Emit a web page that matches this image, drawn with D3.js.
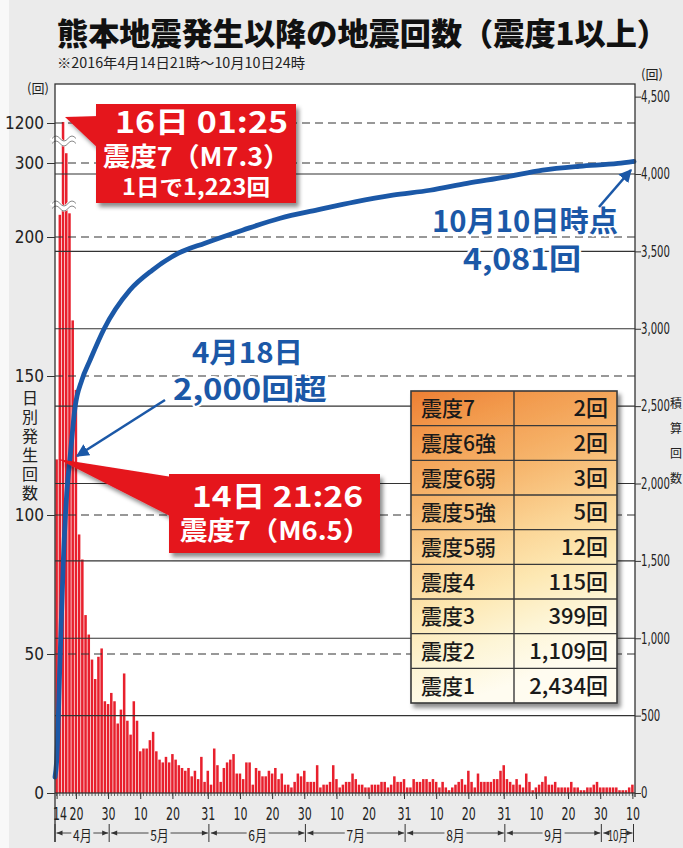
<!DOCTYPE html>
<html>
<head>
<meta charset="utf-8">
<script src="https://cdn.jsdelivr.net/npm/d3@7"></script>
<style>
  body { margin: 0; background: #ebebeb; }
  svg { display: block; }
</style>
</head>
<body>
<svg id="chart" width="683" height="848"></svg>
<script>
// 日別の地震回数 (4/14〜10/10)
const dailyCounts = [
  // 4月14日〜30日
  120, 230, 1223, 520, 232, 170, 145, 93, 84, 64, 57, 48, 41, 49, 52, 33, 32,
  // 5月
  36, 33, 25, 30, 43, 26, 21, 33, 26, 15, 16, 16, 19, 22, 15, 12, 11, 13, 11, 14,
  12, 10, 9, 8, 9, 6, 8, 5, 13, 4, 8,
  // 6月
  3, 16, 10, 4, 9, 11, 12, 14, 7, 7, 5, 11, 11, 3, 9, 8, 6, 6, 8, 7,
  9, 5, 7, 3, 3, 2, 4, 7, 6, 8,
  // 7月
  4, 4, 4, 10, 2, 3, 3, 4, 10, 5, 2, 3, 4, 4, 7, 5, 3, 3, 2, 2,
  3, 3, 3, 4, 4, 2, 3, 6, 4, 4, 5,
  // 8月
  2, 2, 5, 4, 4, 5, 5, 4, 5, 4, 2, 4, 2, 1, 2, 3, 4, 5, 3, 8,
  4, 2, 7, 4, 4, 4, 4, 5, 5, 8, 10,
  // 9月
  5, 4, 3, 5, 3, 2, 7, 4, 1, 2, 3, 4, 6, 3, 3, 4, 2, 2, 2, 2,
  4, 2, 2, 1, 1, 2, 2, 3, 4, 2,
  // 10月
  2, 2, 2, 2, 2, 1, 1, 1, 2, 3
];

// 積算回数 (4/14 0時からの経過日数, 回数)
const cumDayOffsets = [0, 0.53, 1.56, 2.6, 3.66, 4.69, 6.25, 8.34, 10.9, 15.2, 23.3, 30.3, 38.4,
  46.6, 58.3, 70, 81.6, 93.3, 105, 116.6, 128.1, 140, 151.6, 163, 175, 180];
const cumCounts = [103, 213, 859, 1505, 1938, 2170, 2494, 2668, 2797, 2997, 3250, 3379, 3488,
  3553, 3637, 3714, 3768, 3820, 3863, 3895, 3940, 3980, 4025, 4050, 4068, 4081];

const leftTicks = [0, 50, 100, 150, 200, 300, 1200];
const rightTicks = [0, 500, 1000, 1500, 2000, 2500, 3000, 3500, 4000, 4500];
const dayTicks = ["2016-04-14", "2016-04-20", "2016-04-30", "2016-05-10", "2016-05-20", "2016-05-31",
  "2016-06-10", "2016-06-20", "2016-06-30", "2016-07-10", "2016-07-20", "2016-07-31",
  "2016-08-10", "2016-08-20", "2016-08-31", "2016-09-10", "2016-09-20", "2016-09-30", "2016-10-10"];
const monthNames = ["4月", "5月", "6月", "7月", "8月", "9月", "10月"];

const shindoLabels = ["震度7", "震度6強", "震度6弱", "震度5強", "震度5弱", "震度4", "震度3", "震度2", "震度1"];
const shindoCounts = ["2回", "2回", "3回", "5回", "12回", "115回", "399回", "1,109回", "2,434回"];

const JP = "'Noto Sans CJK JP','Noto Sans',sans-serif";
const NUM = "'Liberation Sans Narrow','DejaVu Sans Condensed','Liberation Sans',sans-serif";
const RED = "#e5141f";
const BLUE = "#1b58a7";

const W = 683, H = 848;
const plot = { left: 55, right: 635, top: 84, bottom: 793 };

const svg = d3.select("#chart");
const defs = svg.append("defs");

const sh = defs.append("filter").attr("id", "shadow").attr("x", "-10%").attr("y", "-10%")
  .attr("width", "130%").attr("height", "130%");
sh.append("feDropShadow").attr("dx", 3).attr("dy", 4).attr("stdDeviation", 2)
  .attr("flood-color", "#000").attr("flood-opacity", 0.45);

const grad = defs.append("linearGradient").attr("id", "tblGrad")
  .attr("x1", 0).attr("y1", 0).attr("x2", 0.25).attr("y2", 1);
[[0, "#ed7f33"], [0.15, "#f29a4d"], [0.35, "#f6b56c"], [0.55, "#fbd596"],
 [0.7, "#fde8b3"], [0.85, "#fdf5d6"], [1, "#fffcf0"]].forEach(([o, c]) =>
  grad.append("stop").attr("offset", o).attr("stop-color", c));

defs.append("marker").attr("id", "arrowBlue").attr("viewBox", "0 0 10 10")
  .attr("refX", 9).attr("refY", 5).attr("markerWidth", 5).attr("markerHeight", 5)
  .attr("markerUnits", "strokeWidth").attr("orient", "auto")
  .append("path").attr("d", "M0,0L10,5L0,10z").attr("fill", BLUE);

// 背景
svg.append("rect").attr("width", W).attr("height", H).attr("fill", "#ebebeb");
svg.append("rect").attr("width", 9).attr("height", H).attr("fill", "#f8f8f8");

// タイトル
svg.append("text").attr("x", 57).attr("y", 45)
  .attr("font-family", JP).attr("font-size", 31).attr("font-weight", 900).attr("fill", "#111")
  .attr("textLength", 611).attr("lengthAdjust", "spacingAndGlyphs")
  .text("熊本地震発生以降の地震回数（震度1以上）");
svg.append("text").attr("x", 57).attr("y", 68)
  .attr("font-family", JP).attr("font-size", 14).attr("fill", "#222")
  .attr("textLength", 248).attr("lengthAdjust", "spacingAndGlyphs")
  .text("※2016年4月14日21時～10月10日24時");

// scales
const t0 = Date.UTC(2016, 3, 14), t1 = Date.UTC(2016, 9, 11);
const x = d3.scaleUtc().domain([t0, t1]).range([55, 634]);
const days = d3.utcDay.range(new Date(t0), new Date(t1));
const step = x(days[1]) - x(days[0]);
const yL = d3.scaleLinear().domain([0, 200, 300, 1200]).range([793, 237, 163, 123]);
const yR = d3.scaleLinear().domain([0, 4500]).range([793, 793 - 4500 * 0.15475]);

// プロット背景
svg.append("rect").attr("x", plot.left).attr("y", plot.top)
  .attr("width", plot.right - plot.left).attr("height", plot.bottom - plot.top).attr("fill", "#fff");

// 棒グラフ
const bars = days.map((d, i) => ({ date: d, n: dailyCounts[i] }));
svg.append("g").selectAll("rect").data(bars).join("rect")
  .attr("x", d => x(d.date) + 0.35)
  .attr("width", step - 0.7)
  .attr("y", d => yL(d.n))
  .attr("height", d => yL(0) - yL(d.n))
  .attr("fill", "#e8202d");

// 省略記号
[140, 205].forEach(yy => {
  const wave = `M52,${yy + 1} q4,-5 8,0 t8,0 t8,0`;
  svg.append("path").attr("d", wave).attr("fill", "none").attr("stroke", "#fff").attr("stroke-width", 6);
  svg.append("path").attr("d", wave).attr("transform", "translate(0,-2.5)")
    .attr("fill", "none").attr("stroke", "#888").attr("stroke-width", 1);
  svg.append("path").attr("d", wave).attr("transform", "translate(0,2.5)")
    .attr("fill", "none").attr("stroke", "#888").attr("stroke-width", 1);
});

// 目盛線
const grid = svg.append("g");
grid.selectAll(".dash").data(leftTicks.filter(v => v > 0)).join("line")
  .attr("x1", plot.left).attr("x2", plot.right)
  .attr("y1", d => yL(d)).attr("y2", d => yL(d))
  .attr("stroke", "#333").attr("stroke-width", 1.1).attr("stroke-dasharray", "8,5");
grid.selectAll(".solid").data(rightTicks.filter(v => v > 0 && v < 4500)).join("line")
  .attr("x1", plot.left).attr("x2", plot.right)
  .attr("y1", d => yR(d)).attr("y2", d => yR(d))
  .attr("stroke", "#333").attr("stroke-width", 1.1);

// 積算回数の線
const cum = cumDayOffsets.map((d, i) => ({ date: new Date(t0 + d * 864e5), n: cumCounts[i] }));
svg.append("path").datum(cum)
  .attr("d", d3.line().x(d => x(d.date)).y(d => yR(d.n)).curve(d3.curveMonotoneX))
  .attr("fill", "none").attr("stroke", BLUE).attr("stroke-width", 4.8).attr("stroke-linecap", "round");

// 枠
svg.append("rect").attr("x", plot.left).attr("y", plot.top)
  .attr("width", plot.right - plot.left).attr("height", plot.bottom - plot.top)
  .attr("fill", "none").attr("stroke", "#333").attr("stroke-width", 1.3);
svg.append("line").attr("x1", plot.left).attr("x2", plot.left).attr("y1", plot.bottom).attr("y2", 842)
  .attr("stroke", "#333").attr("stroke-width", 1.3);
svg.append("line").attr("x1", plot.right).attr("x2", plot.right).attr("y1", plot.bottom).attr("y2", 797)
  .attr("stroke", "#333").attr("stroke-width", 1.3);

// 左軸
const axL = svg.append("g").attr("transform", `translate(${plot.left},0)`)
  .call(d3.axisLeft(yL).tickValues(leftTicks).tickSize(8).tickPadding(3).tickFormat(d3.format("d")));
axL.select(".domain").remove();
axL.selectAll(".tick line").attr("stroke", "#333");
axL.selectAll(".tick text").attr("font-family", NUM).attr("font-size", 17).attr("fill", "#222");

// 右軸
const axR = svg.append("g").attr("transform", `translate(${plot.right},0)`)
  .call(d3.axisRight(yR).tickValues(rightTicks).tickSize(6).tickPadding(2).tickFormat(d3.format(",")));
axR.select(".domain").remove();
axR.selectAll(".tick line").attr("stroke", "#333");
axR.selectAll(".tick text").attr("font-family", NUM).attr("font-size", 15).attr("fill", "#222")
  .attr("transform", "scale(0.75,1)");

// 下軸
const parse = d3.utcParse("%Y-%m-%d");
const tickDates = dayTicks.map(parse);
const mid = d => d3.utcHour.offset(d, 12);
svg.append("g").selectAll("line").data(days).join("line")
  .attr("x1", d => x(mid(d))).attr("x2", d => x(mid(d)))
  .attr("y1", plot.bottom).attr("y2", plot.bottom + 3)
  .attr("stroke", "#444").attr("stroke-width", 0.8);
const axB = svg.append("g").attr("transform", `translate(0,${plot.bottom})`)
  .call(d3.axisBottom(x).tickValues(tickDates.map(mid)).tickSize(6).tickPadding(9)
    .tickFormat(d3.utcFormat("%-d")));
axB.select(".domain").remove();
axB.selectAll(".tick line").attr("stroke", "#333");
axB.selectAll(".tick text").attr("font-family", NUM).attr("font-size", 17).attr("fill", "#222")
  .attr("transform", "scale(0.72,1)");
axB.select(".tick text").attr("dx", 4);

// 月の区切り
const bounds = [new Date(t0), ...d3.utcMonth.range(new Date(Date.UTC(2016, 4, 1)), new Date(t1)), new Date(t1)];
const mg = svg.append("g");
bounds.forEach((b, i) => {
  const bx = i === 0 ? plot.left : x(b) - 0.5;
  mg.append("line").attr("x1", bx).attr("x2", bx).attr("y1", 824).attr("y2", 842)
    .attr("stroke", "#333").attr("stroke-width", 1);
});
monthNames.forEach((m, i) => {
  const a = (i === 0 ? plot.left : x(bounds[i])) + 1.5, b = x(bounds[i + 1]) - 1.5;
  const cx = (a + b) / 2;
  const half = i === 6 ? 8 : 11;
  mg.append("text").attr("transform", `translate(${cx},841) scale(${i === 6 ? 0.65 : 0.8},1)`)
    .attr("text-anchor", "middle").attr("font-family", JP).attr("font-size", 15).attr("fill", "#222")
    .text(m);
  [[a, cx - half], [b, cx + half]].forEach(([end, start]) => {
    mg.append("line").attr("x1", start).attr("x2", end).attr("y1", 833).attr("y2", 833)
      .attr("stroke", "#333").attr("stroke-width", 0.9);
    const dir = end < start ? 1 : -1;
    mg.append("path").attr("d", `M${end},833 l${dir * 6},-2.6 v5.2 z`).attr("fill", "#333");
  });
});

// 軸タイトル
svg.append("text").attr("x", 27).attr("y", 93).attr("font-family", JP).attr("font-size", 13)
  .attr("fill", "#222").text("(回)");
svg.append("text").attr("x", 641).attr("y", 79).attr("font-family", JP).attr("font-size", 13)
  .attr("fill", "#222").text("(回)");
svg.append("text").attr("x", 30).attr("y", 390)
  .attr("writing-mode", "vertical-rl").attr("letter-spacing", 3)
  .attr("font-family", JP).attr("font-size", 16).attr("fill", "#222").text("日別発生回数");
svg.append("text").attr("x", 676).attr("y", 397)
  .attr("writing-mode", "vertical-rl").attr("letter-spacing", 13)
  .attr("font-family", JP).attr("font-size", 12).attr("fill", "#222").text("積算回数");

// 表
const tbl = { x: 411, y: 391, w: 206, h: 312, split: 514 };
const rowH = tbl.h / shindoLabels.length;
const tg = svg.append("g");
tg.append("rect").attr("x", tbl.x).attr("y", tbl.y).attr("width", tbl.w).attr("height", tbl.h)
  .attr("fill", "url(#tblGrad)").attr("stroke", "#3a3a3a").attr("stroke-width", 1.6)
  .attr("filter", "url(#shadow)");
tg.selectAll(".row").data(d3.range(1, shindoLabels.length)).join("line")
  .attr("x1", tbl.x).attr("x2", tbl.x + tbl.w)
  .attr("y1", i => tbl.y + i * rowH).attr("y2", i => tbl.y + i * rowH)
  .attr("stroke", "#3a3a3a").attr("stroke-width", 1.4);
tg.append("line").attr("x1", tbl.split).attr("x2", tbl.split).attr("y1", tbl.y).attr("y2", tbl.y + tbl.h)
  .attr("stroke", "#3a3a3a").attr("stroke-width", 1.4);
tg.selectAll(".lbl").data(shindoLabels).join("text")
  .attr("x", tbl.x + 10).attr("y", (d, i) => tbl.y + i * rowH + rowH / 2 + 8)
  .attr("font-family", JP).attr("font-size", 21).attr("font-weight", 500).attr("fill", "#1a1a1a")
  .text(d => d);
tg.selectAll(".val").data(shindoCounts).join("text")
  .attr("x", tbl.x + tbl.w - 9).attr("y", (d, i) => tbl.y + i * rowH + rowH / 2 + 8)
  .attr("text-anchor", "end")
  .attr("font-family", JP).attr("font-size", 22).attr("font-weight", 500).attr("fill", "#1a1a1a")
  .text(d => d);

// 複数行テキスト (1つの text に tspan)
function multiText(lines, fill, halo) {
  const t = svg.append("text").attr("text-anchor", "middle")
    .attr("font-family", JP).attr("font-weight", 700).attr("fill", fill);
  if (halo) t.attr("stroke", "#fff").attr("stroke-width", 4).attr("paint-order", "stroke");
  lines.forEach(l => t.append("tspan").attr("x", l[1]).attr("y", l[2]).attr("font-size", l[3])
    .attr("textLength", l[4]).attr("lengthAdjust", "spacingAndGlyphs").text(l[0]));
}

// 青い注記
multiText([["4月18日", 247.5, 363, 28, 111], ["2,000回超", 250, 400, 29, 154]], BLUE, true);
multiText([["10月10日時点", 525, 232, 29, 186], ["4,081回", 522, 270, 29, 118]], BLUE, true);
[[165, 400, 77, 456], [599, 207, 631, 170]].forEach(([x1, y1, x2, y2]) =>
  svg.append("line").attr("x1", x1).attr("y1", y1).attr("x2", x2).attr("y2", y2)
    .attr("stroke", BLUE).attr("stroke-width", 2.6).attr("marker-end", "url(#arrowBlue)"));

// 赤い吹き出し
function callout(box, tip, lines) {
  const g = svg.append("g").attr("filter", "url(#shadow)");
  g.append("path").attr("d", `M${tip[0]},${tip[1]}L${tip[2]},${tip[3]}L${tip[4]},${tip[5]}Z`).attr("fill", RED);
  g.append("rect").attr("x", box[0]).attr("y", box[1]).attr("width", box[2]).attr("height", box[3]).attr("fill", RED);
  multiText(lines, "#fff", false);
}
callout([96, 104, 200, 99], [65, 117, 100, 116, 100, 150], [
  ["16日 01:25", 201.5, 133, 29, 173],
  ["震度7（M7.3）", 196.5, 166, 26, 187],
  ["1日で1,223回", 196, 195, 22, 148]
]);
callout([169, 474, 211, 79], [58, 459, 172, 477, 172, 517], [
  ["14日 21:26", 277.5, 507, 28, 171],
  ["震度7（M6.5）", 275, 540, 26, 190]
]);
</script>
</body>
</html>
